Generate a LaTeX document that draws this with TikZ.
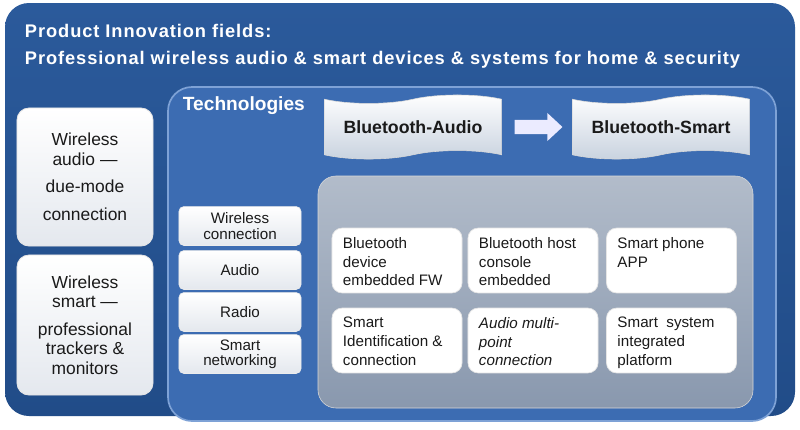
\documentclass[tikz,border=0pt]{standalone}
\usepackage{fontspec}
\setmainfont{Liberation Sans}
\newfontfamily\titlefont[LetterSpace=5]{Liberation Sans}
\usetikzlibrary{arrows.meta, shapes.symbols, positioning}

\definecolor{outerblue}{HTML}{214C88}
\definecolor{outerblueT}{HTML}{2B5A9B}
\definecolor{techblue}{HTML}{3C6CB2}
\definecolor{techedge}{HTML}{7EA2D6}
\definecolor{panelgray}{HTML}{8998AE}
\definecolor{panelgrayT}{HTML}{B2BCCA}
\definecolor{cellshade}{HTML}{E4E8EE}
\definecolor{bannershade}{HTML}{C8D2DF}
\definecolor{inktext}{HTML}{1A1A1A}

\tikzset{
  sidebox/.style={draw=white!80!gray, line width=0.6pt, rounded corners=0.3cm,
    top color=white, bottom color=cellshade, text=inktext, align=center,
    minimum width=3.4cm, font=\fontsize{12.4}{13.8}\selectfont},
  techbox/.style={draw=white!85!gray, line width=0.5pt, rounded corners=0.12cm,
    top color=white, bottom color=cellshade, text=inktext, align=center,
    minimum width=3.05cm, minimum height=0.97cm, inner sep=1pt,
    font=\fontsize{10.8}{11}\selectfont},
  cell/.style={draw=white!80!gray, line width=0.5pt, rounded corners=0.25cm,
    fill=white, text=inktext, minimum width=3.25cm, minimum height=1.62cm,
    inner sep=0pt, font=\fontsize{10.8}{13.3}\selectfont},
  banner/.style={shape=tape, draw=white!70!gray, line width=0.4pt,
    top color=white, bottom color=bannershade, text=inktext,
    minimum width=4.43cm, minimum height=1.6cm, tape bend height=6pt,
    font=\bfseries\fontsize{12.6}{14}\selectfont},
}

\newcommand{\celltext}[1]{\parbox[c][1.3cm][t]{2.7cm}{\vspace*{2pt}\raggedright #1}}

\begin{document}
\begin{tikzpicture}[x=0.025cm, y=-0.025cm]
  % Rahmen
  \fill[white] (0,0) rectangle (800,429);
  \useasboundingbox (0,0) rectangle (800,429);

  % Aeussere Flaeche
  \shade[top color=outerblueT, bottom color=outerblue, rounded corners=0.6cm]
    (5,3) rectangle (795,416);
  \node[anchor=west, text=white, font=\titlefont\bfseries\fontsize{13}{15}\selectfont]
    (title) at (20,31) {Product Innovation fields:};
  \node[anchor=west, text=white, font=\titlefont\bfseries\fontsize{13}{15}\selectfont]
    (subtitle) at (20,60) {Professional wireless audio \& smart devices \& systems for home \& security};

  % Linke Felder
  \node[sidebox, minimum height=3.45cm] (wlaudio) at (85,177)
    {Wireless\\audio ---\\[6pt]due-mode\\[6pt]connection};
  \node[sidebox, minimum height=3.5cm] (wlsmart) at (85,325)
    {Wireless\\smart ---\\[6pt]professional\\trackers \&\\monitors};

  % Technologien
  \draw[techedge, line width=1.2pt, fill=techblue, rounded corners=0.6cm]
    (168,87) rectangle (776,421);
  \node[anchor=west, text=white, font=\bfseries\fontsize{13.6}{15}\selectfont]
    (tech) at (178,106) {Technologies};

  \node[banner] (btaudio) at (413,127) {Bluetooth-Audio};
  \node[banner] (btsmart) at (661,127) {Bluetooth-Smart};
  \draw[white!92!blue, line width=0.36cm,
    -{Triangle[length=0.38cm, width=0.68cm]},
    shorten <=0.32cm, shorten >=0.24cm] (btaudio) -- (btsmart);

  % Technologie-Liste
  \node[techbox] (tconn) at (240,226) {Wireless\\connection};
  \node[techbox] (taudio) at (240,270) {Audio};
  \node[techbox] (tradio) at (240,312) {Radio};
  \node[techbox] (tnet) at (240,354) {Smart\\networking};

  % Graues Feld
  \shade[top color=panelgrayT, bottom color=panelgray, rounded corners=0.45cm,
    draw=white!70!gray] (318,176) rectangle (753,408);

  % Zellen
  \node[cell] (c11) at (397,260.5) {\celltext{Bluetooth\\device\\embedded FW}};
  \node[cell] (c12) at (533,260.5) {\celltext{Bluetooth host\\console\\embedded}};
  \node[cell] (c13) at (671.5,260.5) {\celltext{Smart phone\\APP}};
  \node[cell] (c21) at (397,340.5) {\celltext{Smart\\Identification \&\\connection}};
  \node[cell] (c22) at (533,340.5) {\celltext{\itshape Audio multi-\\point\\connection}};
  \node[cell] (c23) at (671.5,340.5) {\celltext{Smart~ system\\integrated\\platform}};
\end{tikzpicture}
\end{document}
